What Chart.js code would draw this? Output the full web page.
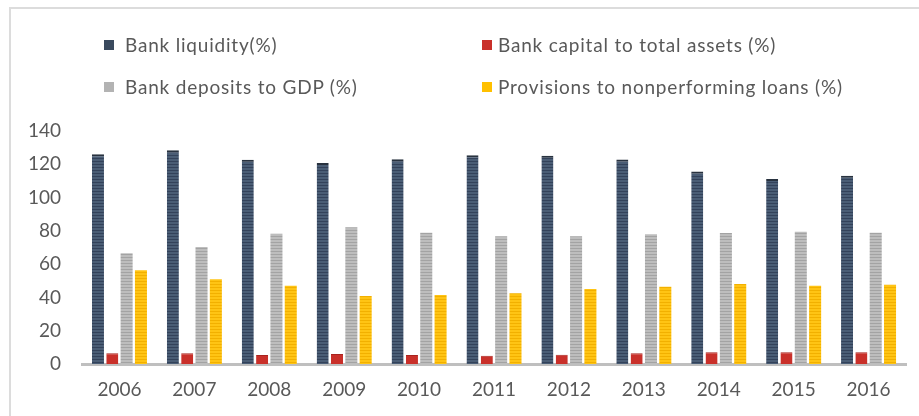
<!DOCTYPE html>
<html>
<head>
<meta charset="utf-8">
<script src="https://cdn.jsdelivr.net/npm/chart.js@4"></script>
<style>
  html, body { margin: 0; padding: 0; background: #fff; overflow: hidden; }
  #wrap { position: relative; width: 919px; height: 416px; }
  #frame { position: absolute; left: 9px; top: 7px; width: 1000px; height: 1000px;
           border: 2px solid #dcdcdc; box-sizing: border-box; }
  #chart { position: absolute; left: 0; top: 0; }
  .lg { position: absolute; font-family: Lato, sans-serif; font-size: 19px; color: #595959;
        white-space: nowrap; line-height: 20px; letter-spacing: 0.8px; }
  .sw { position: absolute; width: 10px; height: 10px; }
</style>
</head>
<body>
<div id="wrap">
  <div id="frame"></div>
  <canvas id="chart" width="919" height="416"></canvas>
  <div id="legend"></div>
</div>
<script>
var years = ['2006', '2007', '2008', '2009', '2010', '2011', '2012', '2013', '2014', '2015', '2016'];
var liquidity = [126, 128.5, 122.7, 120.7, 123.1, 125.5, 125.1, 122.9, 115.7, 111.1, 113.1];
var capital = [6.4, 6.4, 5.4, 6, 5.4, 5, 5.6, 6.4, 7, 7, 7];
var deposits = [66.5, 70.3, 78.3, 82.1, 78.9, 76.7, 76.7, 77.9, 78.7, 79.5, 78.9];
var provisions = [56.3, 50.9, 47, 40.8, 41.4, 42.5, 45, 46.4, 48, 47, 47.6];
var seriesNames = ['Bank liquidity(%)', 'Bank capital to total assets (%)',
                   'Bank deposits to GDP (%)', 'Provisions to nonperforming loans (%)'];
var yTicks = [0, 20, 40, 60, 80, 100, 120, 140];

// striped fill, like the original's textured bars
function stripes(light, dark) {
    var c = document.createElement('canvas');
    c.width = 4; c.height = 3;
    var g = c.getContext('2d');
    g.fillStyle = light; g.fillRect(0, 0, 4, 3);
    g.fillStyle = dark; g.fillRect(0, 2, 4, 1);
    return g.createPattern(c, 'repeat');
}

var ctx = document.getElementById('chart').getContext('2d');
var swatch = ['#3a4a5e', '#c9302a', '#b3b3b3', '#ffc000'];

var data = {
    labels: years,
    datasets: [
        { label: seriesNames[0], data: liquidity, backgroundColor: stripes('#4a5d75', '#33425a'),
          borderColor: '#28323f', borderWidth: { top: 2, left: 0, right: 0, bottom: 0 }, borderSkipped: false },
        { label: seriesNames[1], data: capital, backgroundColor: '#c9302a',
          borderColor: '#a8231e', borderWidth: { top: 1, left: 0, right: 0, bottom: 0 }, borderSkipped: false },
        { label: seriesNames[2], data: deposits, backgroundColor: stripes('#bdbdbd', '#a3a3a3') },
        { label: seriesNames[3], data: provisions, backgroundColor: stripes('#ffc414', '#f2b000') }
    ]
};

var chart = new Chart(ctx, {
    type: 'bar',
    data: data,
    options: {
        responsive: false,
        animation: false,
        layout: { padding: { top: 131, right: 13, left: 0, bottom: 0 } },
        datasets: { bar: { categoryPercentage: 0.765, barPercentage: 0.84 } },
        plugins: { legend: { display: false }, tooltip: { enabled: false } },
        scales: {
            x: {
                grid: { display: false, drawTicks: false },
                border: { display: true, color: '#bfbfbf', width: 3 },
                ticks: { color: '#595959', padding: 14, font: { family: 'Lato', size: 19 } },
                afterFit: function (s) { s.height = 52; }
            },
            y: {
                min: 0, max: 140,
                grid: { display: false, drawTicks: false },
                border: { display: false },
                afterBuildTicks: function (s) { s.ticks = yTicks.map(function (v) { return { value: v }; }); },
                ticks: { color: '#595959', padding: 21, font: { family: 'Lato', size: 19 } },
                afterFit: function (s) { s.width = 82; }
            }
        }
    }
});

// html legend in two columns
var pos = [[104, 125, 35], [482, 498, 35], [104, 125, 77], [482, 498, 77]];
var lg = document.getElementById('legend');
chart.data.datasets.forEach(function (ds, i) {
    var sw = document.createElement('div');
    sw.className = 'sw';
    sw.style.left = pos[i][0] + 'px';
    sw.style.top = (pos[i][2] + 5) + 'px';
    sw.style.background = swatch[i];
    lg.appendChild(sw);
    var t = document.createElement('div');
    t.className = 'lg';
    t.style.left = pos[i][1] + 'px';
    t.style.top = pos[i][2] + 'px';
    t.textContent = ds.label;
    lg.appendChild(t);
});
</script>
</body>
</html>
